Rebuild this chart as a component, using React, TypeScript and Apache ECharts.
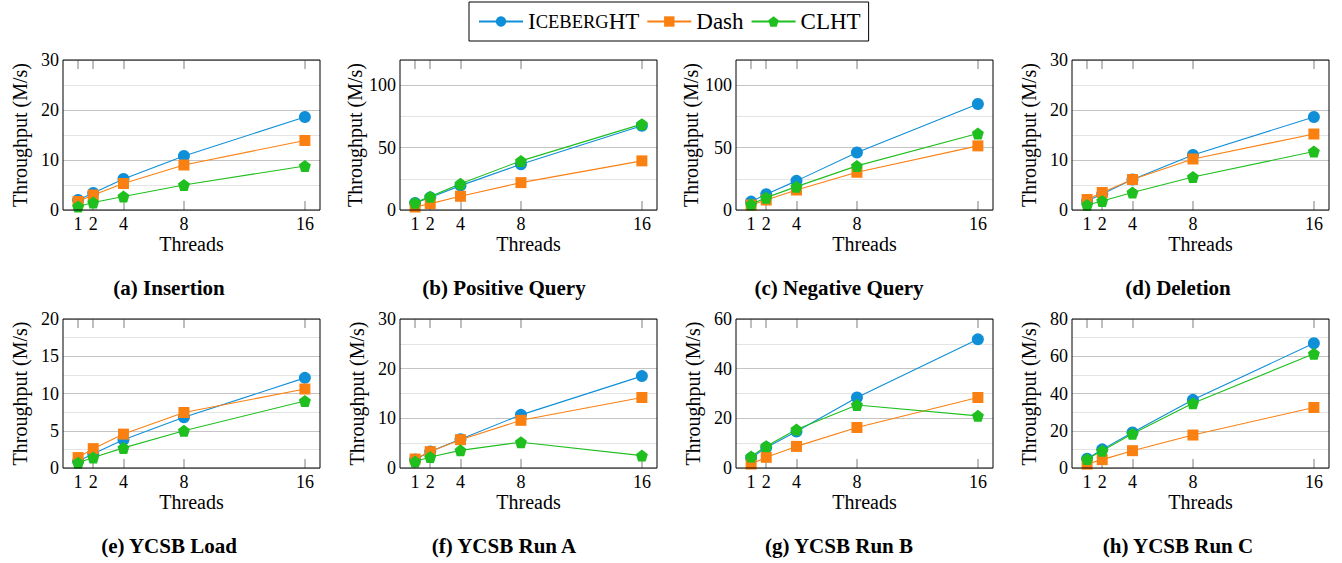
import React, { useEffect, useRef } from 'react';
import * as echarts from 'echarts';

const THREADS = [1, 2, 4, 8, 16];
const SERIES_NAMES = ['IcebergHT', 'Dash', 'CLHT'];

// (a) Insertion
const insertionIceberg = [2.0, 3.4, 6.2, 10.8, 18.6];
const insertionDash = [1.7, 3.0, 5.3, 9.0, 13.9];
const insertionClht = [0.7, 1.5, 2.7, 5.0, 8.8];
// (b) Positive Query
const posQueryIceberg = [5.6, 10.0, 19.5, 36.6, 67.4];
const posQueryDash = [2.4, 5.1, 11.0, 21.9, 39.3];
const posQueryClht = [5.9, 10.7, 21.0, 39.3, 68.7];
// (c) Negative Query
const negQueryIceberg = [6.7, 12.6, 23.3, 46.0, 84.8];
const negQueryDash = [4.0, 8.0, 16.0, 30.2, 51.3];
const negQueryClht = [4.5, 9.9, 18.7, 35.3, 61.2];
// (d) Deletion
const deletionIceberg = [1.8, 3.2, 6.1, 11.0, 18.6];
const deletionDash = [2.1, 3.5, 6.1, 10.2, 15.2];
const deletionClht = [1.0, 1.8, 3.5, 6.6, 11.7];
// (e) YCSB Load
const loadIceberg = [0.9, 1.9, 3.8, 6.8, 12.1];
const loadDash = [1.4, 2.6, 4.55, 7.45, 10.6];
const loadClht = [0.7, 1.4, 2.7, 5.0, 9.0];
// (f) YCSB Run A
const runAIceberg = [1.7, 3.3, 5.8, 10.7, 18.5];
const runADash = [1.8, 3.3, 5.7, 9.6, 14.2];
const runAClht = [1.3, 2.2, 3.55, 5.2, 2.5];
// (g) YCSB Run B
const runBIceberg = [4.0, 8.3, 14.7, 28.4, 51.8];
const runBDash = [1.6, 4.3, 8.7, 16.3, 28.4];
const runBClht = [4.6, 8.8, 15.5, 25.4, 21.0];
// (h) YCSB Run C
const runCIceberg = [5.0, 10.0, 19.1, 36.6, 67.0];
const runCDash = [2.1, 4.5, 9.3, 17.7, 32.5];
const runCClht = [4.8, 9.3, 18.4, 34.8, 61.4];

const PANEL_TITLES = [
  '(a) Insertion',
  '(b) Positive Query',
  '(c) Negative Query',
  '(d) Deletion',
  '(e) YCSB Load',
  '(f) YCSB Run A',
  '(g) YCSB Run B',
  '(h) YCSB Run C',
];
const PANEL_DATA = [
  [insertionIceberg, insertionDash, insertionClht],
  [posQueryIceberg, posQueryDash, posQueryClht],
  [negQueryIceberg, negQueryDash, negQueryClht],
  [deletionIceberg, deletionDash, deletionClht],
  [loadIceberg, loadDash, loadClht],
  [runAIceberg, runADash, runAClht],
  [runBIceberg, runBDash, runBClht],
  [runCIceberg, runCDash, runCClht],
];
const Y_MAX = [30, 120, 120, 30, 20, 30, 60, 80];
const Y_MAJOR = [10, 50, 50, 10, 5, 10, 20, 20];

const X_LABEL = 'Threads';
const Y_LABEL = 'Throughput (M/s)';

// layout
const COL_LEFT = [63, 400, 736, 1072];
const PLOT_W = 257;
const ROW_TOP = [60, 319];
const ROW_H = [150, 149];
const CAPTION_X = [169, 504, 839, 1178];
const CAPTION_Y = [288, 546];

const FONT = 'Liberation Serif';
const COLORS = ['#0e8fd7', '#fb8012', '#1fbf1f'];
const PENTAGON = 'path://M50,0 L97.55,34.55 L79.39,90.45 L20.61,90.45 L2.45,34.55 Z';
const SYMBOLS = ['circle', 'rect', PENTAGON];
const SYMBOL_SIZES = [12, 11, 12];

function buildOption() {
  const grid: any[] = [];
  const xAxis: any[] = [];
  const yAxis: any[] = [];
  const series: any[] = [];
  const graphic: any[] = [];

  PANEL_TITLES.forEach((title, i) => {
    const row = Math.floor(i / 4);
    const col = i % 4;
    const left = COL_LEFT[col];
    const top = ROW_TOP[row];
    const h = ROW_H[row];
    grid.push({ left, top, width: PLOT_W, height: h, containLabel: false });

    const tick = {
      show: true,
      inside: true,
      length: 9,
      customValues: THREADS,
      lineStyle: { color: '#a8a8a8', width: 1.5 },
    };

    xAxis.push({
      type: 'value',
      gridIndex: i,
      min: 0,
      max: 17,
      position: 'bottom',
      name: X_LABEL,
      nameLocation: 'middle',
      nameGap: 24,
      nameTextStyle: { fontFamily: FONT, fontSize: 20, color: '#000' },
      axisLine: { show: false },
      axisTick: tick,
      axisLabel: {
        customValues: THREADS,
        fontFamily: FONT,
        fontSize: 18,
        color: '#000',
        margin: 5,
      },
      splitLine: { show: false },
    });
    xAxis.push({
      type: 'value',
      gridIndex: i,
      min: 0,
      max: 17,
      position: 'top',
      axisLine: { show: false },
      axisTick: tick,
      axisLabel: { show: false },
      splitLine: { show: false },
    });

    const major = Y_MAJOR[i];
    yAxis.push({
      type: 'value',
      gridIndex: i,
      min: 0,
      max: Y_MAX[i],
      interval: major / 2,
      name: Y_LABEL,
      nameLocation: 'middle',
      nameGap: 33,
      nameTextStyle: { fontFamily: FONT, fontSize: 20, color: '#000' },
      axisLine: { show: false },
      axisTick: { show: false },
      axisLabel: {
        fontFamily: FONT,
        fontSize: 18,
        color: '#000',
        margin: 4,
        formatter: (v: number) =>
          Math.abs(v / major - Math.round(v / major)) < 1e-9 ? String(v) : '',
      },
      splitLine: {
        show: true,
        lineStyle: { color: ['#c4c4c4', '#e4e4e4'], width: 1.2 },
      },
    });

    PANEL_DATA[i].forEach((vals, s) => {
      series.push({
        name: SERIES_NAMES[s],
        type: 'line',
        xAxisIndex: i * 2,
        yAxisIndex: i,
        data: THREADS.map((t, k) => [t, vals[k]]),
        symbol: SYMBOLS[s],
        symbolSize: SYMBOL_SIZES[s],
        showSymbol: true,
        lineStyle: { color: COLORS[s], width: 1.1 },
        itemStyle: { color: COLORS[s] },
        emphasis: { disabled: true },
        z: 3 + s,
      });
    });

    graphic.push({
      type: 'rect',
      shape: { x: left, y: top, width: PLOT_W, height: h },
      style: { fill: 'none', stroke: '#000', lineWidth: 1 },
      z: 100,
      silent: true,
    });
    graphic.push({
      type: 'text',
      x: CAPTION_X[col],
      y: CAPTION_Y[row],
      style: {
        text: title,
        textAlign: 'center',
        textVerticalAlign: 'middle',
        fontFamily: FONT,
        fontWeight: 'bold',
        fontSize: 21,
        fill: '#000',
      },
      z: 100,
    });
  });

  return {
    animation: false,
    backgroundColor: '#fff',
    legend: {
      data: SERIES_NAMES,
      left: 469,
      top: 2,
      orient: 'horizontal',
      padding: [8, 8, 8, 9],
      itemGap: 7,
      itemWidth: 44,
      itemHeight: 13,
      borderColor: '#000',
      borderWidth: 1,
      borderRadius: 0,
      selectedMode: false,
      formatter: (name: string) =>
        name === 'IcebergHT' ? '{big|I}{sc|CEBERG}{big|HT}' : name,
      textStyle: {
        fontFamily: FONT,
        fontSize: 23,
        color: '#000',
        rich: {
          big: { fontFamily: FONT, fontSize: 23, color: '#000' },
          sc: { fontFamily: FONT, fontSize: 18.5, color: '#000' },
        },
      },
    },
    grid,
    xAxis,
    yAxis,
    series,
    graphic,
  };
}

export default function App() {
  const ref = useRef<HTMLDivElement>(null);
  useEffect(() => {
    if (!ref.current) return;
    const chart = echarts.init(ref.current, undefined, { renderer: 'svg' });
    chart.setOption(buildOption() as any);
    return () => chart.dispose();
  }, []);
  return (
    <div
      ref={ref}
      style={{ position: 'absolute', left: 0, top: 0, width: 1342, height: 563, background: '#fff' }}
    />
  );
}
